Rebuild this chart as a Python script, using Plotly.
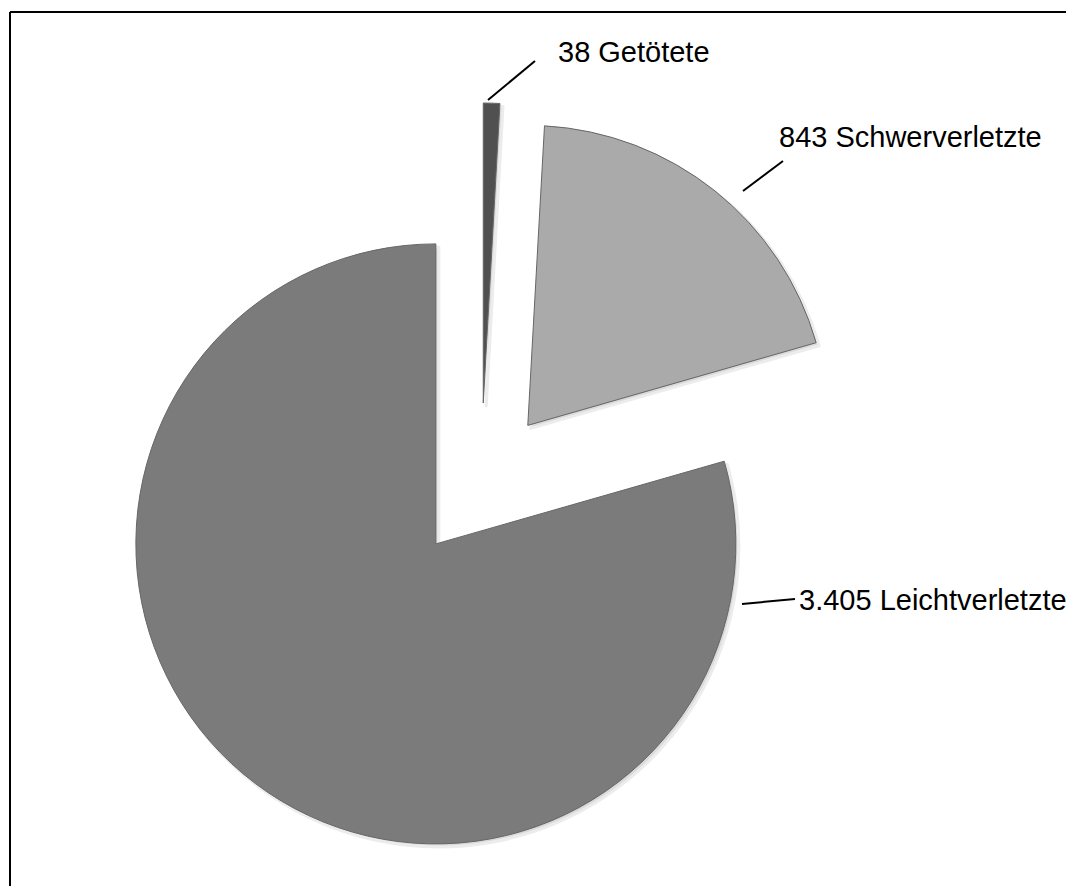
import plotly.graph_objects as go

# ---- data ----
categories = ["Getötete", "Schwerverletzte", "Leichtverletzte"]
values = [38, 843, 3405]
colors = ["#505050", "#aaaaaa", "#7b7b7b"]
pulls = [0.27, 0.25, 0.25]

W, H = 1066, 886


def fmt(v):
    return f"{v:,}".replace(",", ".")


labels_text = [f"{fmt(v)} {c}" for v, c in zip(values, categories)]

# pie box (pixels) -> paper domain
cx, cy, r = 481, 484, 300
half = r * (1 + max(pulls))
dom_x = [(cx - half) / W, (cx + half) / W]
dom_y = [1 - (cy + half) / H, 1 - (cy - half) / H]

fig = go.Figure()

# soft shadow pie
sh = 3
fig.add_trace(go.Pie(
    labels=categories, values=values, sort=False, direction="clockwise",
    rotation=0, pull=pulls, textinfo="none", hoverinfo="skip",
    marker=dict(colors=["#dadada"] * 3, line=dict(color="#ececec", width=3)),
    domain=dict(x=[dom_x[0] + sh / W, dom_x[1] + sh / W],
                y=[dom_y[0] - sh / H, dom_y[1] - sh / H]),
    showlegend=False,
))

fig.add_trace(go.Pie(
    labels=categories, values=values, sort=False, direction="clockwise",
    rotation=0, pull=pulls, textinfo="none",
    marker=dict(colors=colors, line=dict(color="#666666", width=1)),
    domain=dict(x=dom_x, y=dom_y),
    showlegend=False,
))

# label positions (pixels): text left / vertical middle, leader line endpoints
label_pos = [(556, 52), (777, 137), (797, 600)]
leader = [((488, 100), (535, 61)), ((743, 191), (783, 161)), ((742, 604), (795, 599))]

for txt, (tx, ty) in zip(labels_text, label_pos):
    fig.add_annotation(
        x=tx / W, y=1 - ty / H, xref="paper", yref="paper",
        text=txt, showarrow=False, xanchor="left", yanchor="middle",
        font=dict(family="Liberation Sans, Arial, sans-serif", size=29, color="#000000"),
    )

shapes = []
for (x0, y0), (x1, y1) in leader:
    shapes.append(dict(type="line", xref="paper", yref="paper",
                       x0=x0 / W, y0=1 - y0 / H, x1=x1 / W, y1=1 - y1 / H,
                       line=dict(color="#000000", width=2)))
# chart frame (top and left edges visible)
shapes.append(dict(type="line", xref="paper", yref="paper",
                   x0=10 / W, y0=1 - 12 / H, x1=1.0, y1=1 - 12 / H,
                   line=dict(color="#000000", width=2)))
shapes.append(dict(type="line", xref="paper", yref="paper",
                   x0=10 / W, y0=1 - 12 / H, x1=10 / W, y1=0.0,
                   line=dict(color="#000000", width=2)))

fig.update_layout(
    width=W, height=H,
    margin=dict(l=0, r=0, t=0, b=0),
    paper_bgcolor="#ffffff", plot_bgcolor="#ffffff",
    shapes=shapes,
    showlegend=False,
)

fig.write_html(
    "out.html",
    config={"displayModeBar": False},
    post_script="document.body.style.margin='0';document.body.style.overflow='hidden';",
)
